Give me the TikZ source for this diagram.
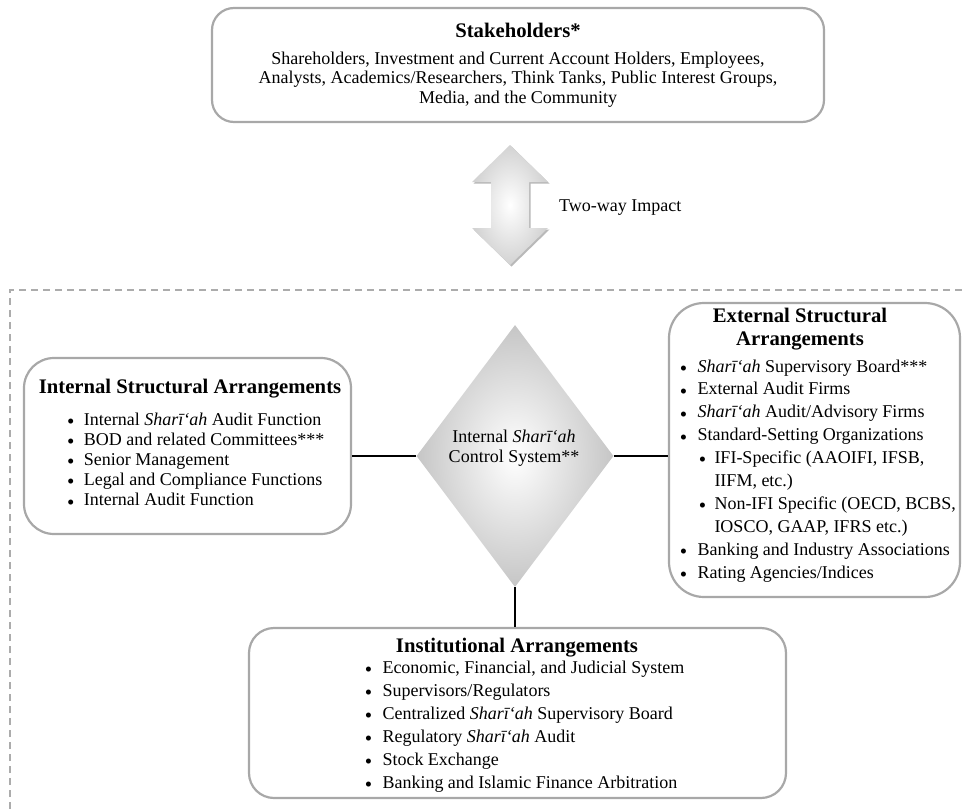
\documentclass[tikz,border=0pt]{standalone}
\usepackage{fontspec}
\setmainfont{Liberation Serif}
\usepackage{graphicx}
\usetikzlibrary{shapes.geometric}
\definecolor{boxgray}{RGB}{168,168,168}
\definecolor{dashgray}{RGB}{172,172,172}
\newcommand\bul[1][14pt]{\makebox[0pt]{\raisebox{-3.3pt}{\fontsize{21}{21}\selectfont\textbullet}}\hspace{#1}}
\newcommand\shar{\textit{Sharī‘ah}}
\tikzset{
  box/.style={draw=boxgray, line width=2.2pt, fill=white, inner sep=0pt},
  titletext/.style={inner sep=0pt, font=\fontsize{20.7}{23}\selectfont\bfseries},
  bodytext/.style={inner sep=0pt, font=\fontsize{18}{19.5}\selectfont},
  conn/.style={draw=black, line width=1.1pt},
  dashframe/.style={draw=dashgray, line width=1.5pt, dash pattern=on 7pt off 5pt}
}
\begin{document}
\begin{tikzpicture}[x=1pt, y=-1pt]
\useasboundingbox (0,0) rectangle (962,809);
% dashed frame (extends beyond the picture)
\draw[dashframe] (10,809) -- (10,290) -- (962,290);

% stakeholders
\node[box, rounded corners=22pt, minimum width=612pt, minimum height=114pt] (stake) at (518,65) {};
\node[titletext, anchor=base] (stitle) at (518,37) {Stakeholders*};
\node[bodytext, anchor=base] (stext) at (518,64) {\begin{tabular}[t]{@{}c@{}}Shareholders, Investment and Current Account Holders, Employees,\\
Analysts, Academics/Researchers, Think Tanks, Public Interest Groups,\\
Media, and the Community\end{tabular}};

% two-way arrow
\fill[gray!55] (511.5,146.5) -- (549.5,183.5) -- (530.5,183.5) -- (530.5,229.5) -- (549.5,229.5) -- (511.5,266.5) -- (473.5,229.5) -- (492.5,229.5) -- (492.5,183.5) -- (473.5,183.5) -- cycle;
\shade[inner color=white, outer color=gray!35] (510,145) -- (548,182) -- (529,182) -- (529,228) -- (548,228) -- (510,265) -- (472,228) -- (491,228) -- (491,182) -- (472,182) -- cycle;
\node[bodytext, anchor=base west] (impact) at (559,211) {Two-way Impact};

% central diamond
\node[diamond, shading=radial, inner color=white, outer color=gray!45, minimum width=197pt, minimum height=262pt, inner sep=0pt] (ctrl) at (515,456) {};
\node[bodytext, anchor=base, font=\fontsize{18}{20}\selectfont] (ctrltext) at (514,442) {\begin{tabular}[t]{@{}c@{}}Internal \shar\\ Control System**\end{tabular}};

% internal structural arrangements
\node[box, rounded corners=30pt, minimum width=327pt, minimum height=176pt] (intbox) at (187.5,446) {};
\node[titletext, anchor=base] (inttitle) at (190,393) {Internal Structural Arrangements};
\node[bodytext, anchor=base west, font=\fontsize{18}{20.2}\selectfont] (intlist) at (70.7,425) {\begin{tabular}[t]{@{}l@{}}
\bul[13pt]Internal \shar{} Audit Function\\
\bul[13pt]BOD and related Committees***\\
\bul[13pt]Senior Management\\
\bul[13pt]Legal and Compliance Functions\\
\bul[13pt]Internal Audit Function\end{tabular}};

% external structural arrangements
\node[box, rounded corners=35pt, minimum width=291pt, minimum height=294pt] (extbox) at (814.5,450) {};
\node[titletext, anchor=base] (exttitle) at (800,322) {\begin{tabular}[t]{@{}c@{}}External Structural\\ Arrangements\end{tabular}};
\node[bodytext, anchor=base west, font=\fontsize{18}{22.9}\selectfont] (extlist) at (683.3,372) {\begin{tabular}[t]{@{}l@{}}
\bul\shar{} Supervisory Board***\\
\bul External Audit Firms\\
\bul\shar{} Audit/Advisory Firms\\
\bul Standard-Setting Organizations\\
\hspace{19pt}\bul[12pt]IFI-Specific (AAOIFI, IFSB,\\
\hspace{31pt}IIFM, etc.)\\
\hspace{19pt}\bul[12pt]Non-IFI Specific (OECD, BCBS,\\
\hspace{31pt}IOSCO, GAAP, IFRS etc.)\\
\bul Banking and Industry Associations\\
\bul Rating Agencies/Indices\end{tabular}};

% institutional arrangements
\node[box, rounded corners=25pt, minimum width=537pt, minimum height=170pt] (instbox) at (517.5,713) {};
\node[titletext, anchor=base] (insttitle) at (517,652) {Institutional Arrangements};
\node[bodytext, anchor=base west, font=\fontsize{18}{23}\selectfont] (instlist) at (368.3,673) {\begin{tabular}[t]{@{}l@{}}
\bul Economic, Financial, and Judicial System\\
\bul Supervisors/Regulators\\
\bul Centralized \shar{} Supervisory Board\\
\bul Regulatory \shar{} Audit\\
\bul Stock Exchange\\
\bul Banking and Islamic Finance Arbitration\end{tabular}};

% connectors
\draw[conn] (ctrl.west) -- (ctrl.west -| intbox.east);
\draw[conn] (ctrl.east) -- (ctrl.east -| extbox.west);
\draw[conn] (ctrl.south) -- (ctrl.south |- instbox.north);
\end{tikzpicture}
\end{document}
